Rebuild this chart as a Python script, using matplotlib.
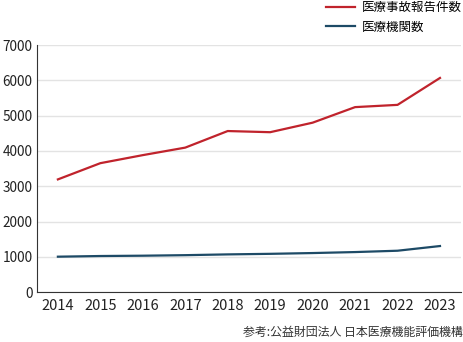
import matplotlib.pyplot as plt
import numpy as np

plt.rcParams['font.family'] = ['Noto Sans CJK JP', 'DejaVu Sans']

years = [2014, 2015, 2016, 2017, 2018, 2019, 2020, 2021, 2022, 2023]
reports = [3194, 3654, 3882, 4095, 4565, 4532, 4802, 5243, 5307, 6070]
institutions = [1003, 1022, 1031, 1046, 1068, 1084, 1106, 1134, 1172, 1305]

fig = plt.figure(figsize=(4.64, 3.42), dpi=100)
ax = fig.add_axes([0.079, 0.146, 0.915, 0.722])

ax.plot(years, reports, color="#c0232c", lw=1.6, label="医療事故報告件数")
ax.plot(years, institutions, color="#1d4a66", lw=1.6, label="医療機関数")

ax.set_xlim(2013.5, 2023.5)
ax.set_ylim(0, 7000)
ax.set_xticks(years)
ax.set_yticks(np.arange(0, 7001, 1000))
ax.grid(axis="y", color="#e3e3e3", lw=1)
ax.set_axisbelow(True)
for s in ["top", "right"]:
    ax.spines[s].set_visible(False)
ax.spines["left"].set_color("#333333")
ax.spines["bottom"].set_color("#333333")
ax.tick_params(length=0, labelsize=10.5, colors="#222222")
ax.tick_params(axis="y", pad=3, labelsize=9.8)
ax.tick_params(axis="x", pad=5)

fig.legend(loc="upper right", bbox_to_anchor=(1.02, 1.03), frameon=False,
           fontsize=9, handlelength=2.3, handletextpad=0.6, labelspacing=0.55)
fig.text(0.997, 0.01, "参考:公益財団法人 日本医療機能評価機構", ha="right",
         va="bottom", fontsize=8.6, color="#333333")

fig.savefig("out.png")
